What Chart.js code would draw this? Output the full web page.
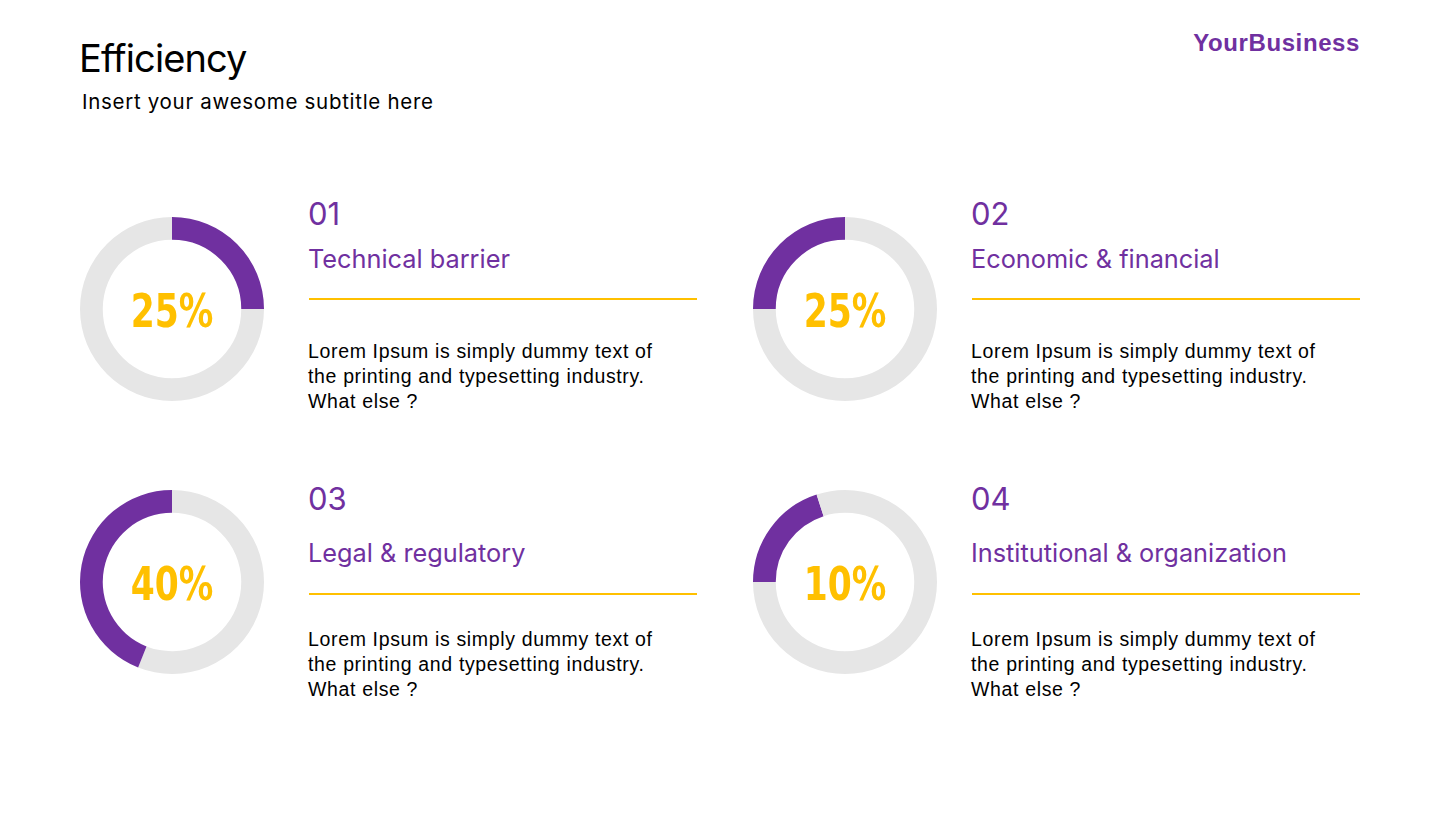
<!DOCTYPE html>
<html>
<head>
<meta charset="utf-8">
<script src="https://cdn.jsdelivr.net/npm/chart.js@4"></script>
<style>
  body { margin: 0; background: #fff; width: 1445px; height: 813px; position: relative; overflow: hidden; font-family: Inter, "Open Sans", sans-serif; }
  .abs { position: absolute; white-space: nowrap; }
  .title { left: 79px; top: 35px; font-size: 38px; letter-spacing: -0.9px; line-height: 46px; color: #000; }
  .subtitle { left: 82px; top: 90px; font-size: 20.5px; letter-spacing: 0.7px; line-height: 24px; color: #000; }
  .brand { right: 85px; top: 29px; font: bold 24px "Liberation Sans", Arial, sans-serif; letter-spacing: 0.6px; line-height: 28px; color: #7030A0; }
  .num { font-size: 31px; line-height: 36px; color: #7030A0; }
  .head { font-size: 25.3px; line-height: 30px; color: #7030A0; }
  .rule { height: 2px; background: #FFC000; width: 388px; }
  .body { font: 19.5px "Liberation Sans", Arial, sans-serif; letter-spacing: 0.65px; line-height: 25px; color: #000; }
  .pct { width: 186px; text-align: center; font: bold 46px "DejaVu Sans", sans-serif; line-height: 50px; color: #FFC000; transform: scaleX(0.75); }
  canvas.donut { position: absolute; }
</style>
</head>
<body>
<div class="abs title">Efficiency</div>
<div class="abs subtitle">Insert your awesome subtitle here</div>
<div class="abs brand">YourBusiness</div>
<script>
// card texts
const numbers = ['01', '02', '03', '04'];
const headings = ['Technical barrier', 'Economic & financial', 'Legal & regulatory', 'Institutional & organization'];
const bodyLines = ['Lorem Ipsum is simply dummy text of', 'the printing and typesetting industry.', 'What else ?'];
const percentLabels = ['25%', '25%', '40%', '10%'];

// donut segments, clockwise from 12 o'clock
const donut1 = [25, 75];
const donut2 = [75, 25];
const donut3 = [56, 44];
const donut4 = [75, 20, 5];
const donutData = [donut1, donut2, donut3, donut4];

const PURPLE = '#7030A0';
const GREY = '#E6E6E6';
const donutColors = [
  [PURPLE, GREY],
  [GREY, PURPLE],
  [GREY, PURPLE],
  [GREY, PURPLE, GREY]
];

// card layout: donut center, text column, row shift
const cards = [
  { cx: 172, cy: 309, tx: 308, row: 0 },
  { cx: 845, cy: 309, tx: 971, row: 0 },
  { cx: 172, cy: 582, tx: 308, row: 1 },
  { cx: 845, cy: 582, tx: 971, row: 1 }
];

function addDiv(cls, text, left, top) {
  const d = document.createElement('div');
  d.className = 'abs ' + cls;
  d.textContent = text;
  d.style.left = left + 'px';
  d.style.top = top + 'px';
  document.body.appendChild(d);
  return d;
}

cards.forEach((c, i) => {
  const size = 186;
  const cv = document.createElement('canvas');
  cv.className = 'donut';
  cv.width = size;
  cv.height = size;
  cv.style.left = (c.cx - size / 2) + 'px';
  cv.style.top = (c.cy - size / 2) + 'px';
  cv.style.width = size + 'px';
  cv.style.height = size + 'px';
  document.body.appendChild(cv);

  new Chart(cv, {
    type: 'doughnut',
    data: {
      labels: donutData[i].map((_, k) => 'seg' + k),
      datasets: [{
        data: donutData[i],
        backgroundColor: donutColors[i],
        borderWidth: 0
      }]
    },
    options: {
      responsive: false,
      animation: false,
      radius: 92,
      cutout: 70,
      plugins: { legend: { display: false }, tooltip: { enabled: false } },
      events: []
    }
  });

  addDiv('pct', percentLabels[i], c.cx - size / 2, c.cy - 23);

  // the lower row is not shifted evenly in the slide
  addDiv('num', numbers[i], c.tx, 196 + c.row * 285);
  addDiv('head', headings[i], c.tx, 244 + c.row * 294);
  addDiv('rule', '', c.tx + 1, 298 + c.row * 295);
  bodyLines.forEach((line, k) => {
    addDiv('body', line, c.tx, 339 + k * 25 + c.row * 288);
  });
});
</script>
</body>
</html>
